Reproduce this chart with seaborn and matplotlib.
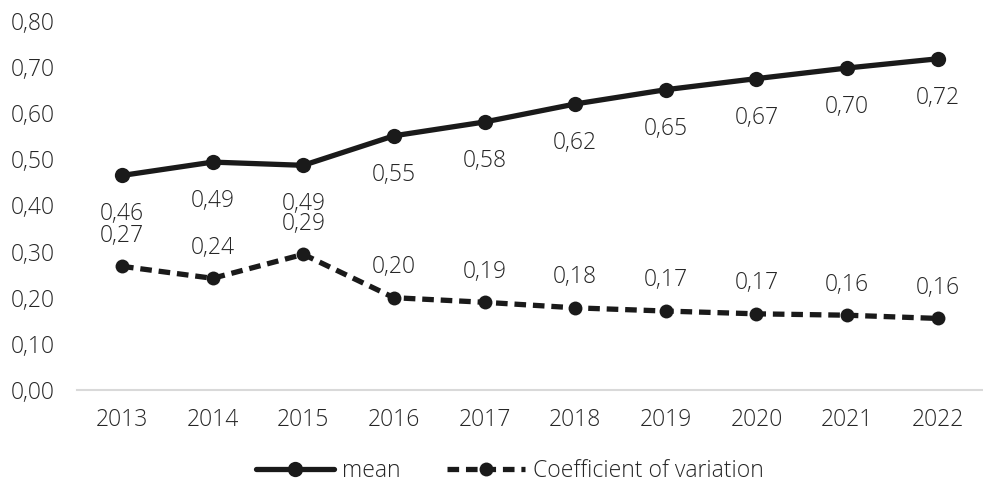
import matplotlib
matplotlib.use("Agg")
import matplotlib.pyplot as plt
import seaborn as sns
import pandas as pd

years = ["2013", "2014", "2015", "2016", "2017", "2018", "2019", "2020", "2021", "2022"]
mean_vals = [0.465, 0.494, 0.487, 0.551, 0.581, 0.620, 0.651, 0.675, 0.698, 0.718]
cv_vals = [0.268, 0.242, 0.294, 0.200, 0.190, 0.178, 0.171, 0.165, 0.162, 0.155]
mean_labels = ["0,46", "0,49", "0,49", "0,55", "0,58", "0,62", "0,65", "0,67", "0,70", "0,72"]
cv_labels = ["0,27", "0,24", "0,29", "0,20", "0,19", "0,18", "0,17", "0,17", "0,16", "0,16"]

sns.set_style("white")
plt.rcParams['font.family'] = ['Open Sans', 'DejaVu Sans']
plt.rcParams['font.weight'] = 300

df = pd.DataFrame({"year": years, "mean": mean_vals, "cv": cv_vals})
df["x"] = range(len(years))

fs = 16.5
fig = plt.figure(figsize=(9.83, 4.88), dpi=100)
ax = fig.add_axes([0.078, 0.201, 0.922, 0.756])

sns.lineplot(data=df, x="x", y="mean", ax=ax, color="#1a1a1a", linewidth=3.8,
             marker="o", markersize=11, markeredgewidth=0, label="mean")
sns.lineplot(data=df, x="x", y="cv", ax=ax, color="#1a1a1a", linewidth=3.8,
             linestyle=(0, (2.2, 1.3)), marker="o", markersize=10, markeredgewidth=0,
             label="Coefficient of variation")

# data labels: mean below points, CV above
for i, (m, c) in enumerate(zip(mean_vals, cv_vals)):
    ax.annotate(mean_labels[i], (i, m), xytext=(0, -28), textcoords="offset points",
                ha="center", va="center", fontsize=fs, color="#262626")
    ax.annotate(cv_labels[i], (i, c), xytext=(0, 22), textcoords="offset points",
                ha="center", va="center", fontsize=fs, color="#262626")

ax.set_xlim(-0.5, len(years) - 0.5)
ax.set_ylim(0, 0.8)
ax.set_xticks(range(len(years)))
ax.set_xticklabels(years)
yt = [i / 10 for i in range(9)]
ax.set_yticks(yt)
ax.set_yticklabels([f"{v:.2f}".replace(".", ",") for v in yt])
ax.tick_params(axis="both", labelsize=fs, colors="#262626", length=0)
ax.tick_params(axis="x", pad=13)
ax.tick_params(axis="y", pad=16)
ax.set_xlabel("")
ax.set_ylabel("")
for s in ["top", "right", "left"]:
    ax.spines[s].set_visible(False)
ax.spines["bottom"].set_color("#d9d9d9")
ax.spines["bottom"].set_linewidth(1.5)

ax.legend(loc="center", bbox_to_anchor=(0.478, -0.22), ncol=2, frameon=False,
          fontsize=fs, handlelength=3.4, columnspacing=2.0, handletextpad=0.35)

fig.savefig("out.png", dpi=100)
